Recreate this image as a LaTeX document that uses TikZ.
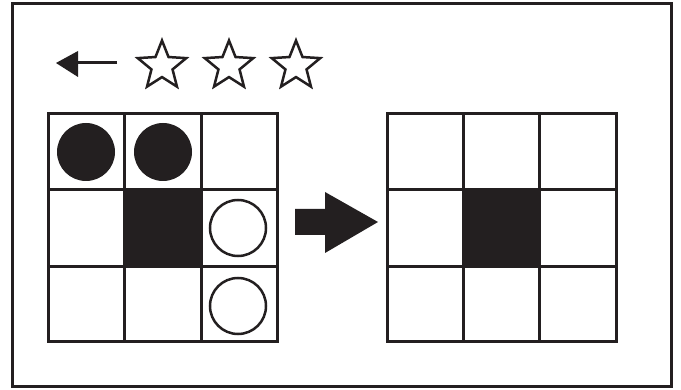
\documentclass[tikz,border=0pt]{standalone}
\usetikzlibrary{shapes.geometric}
\definecolor{ink}{HTML}{231F20}
\begin{document}
\begin{tikzpicture}[x=1pt,y=-1pt,
  cell/.style={draw=ink,line width=3pt,line cap=rect},
  dot/.style={circle,fill=ink,minimum size=58pt,inner sep=0pt},
  ring/.style={circle,draw=ink,line width=2.5pt,fill=white,minimum size=56pt,inner sep=0pt},
  starbox/.style={star,star points=5,star point ratio=2.3,draw=ink,line width=2.5pt,minimum size=51pt,inner sep=0pt}]
\useasboundingbox (0,0) rectangle (681,390);
\fill[white] (0,0) rectangle (681,390);
\draw[ink,line width=3pt] (12,3.5) rectangle (671,387);
% small left arrow
\coordinate (sa) at (117,63);
\coordinate (sb) at (76,63);
\draw[ink,line width=3pt] (sa) -- (sb);
\fill[ink] (56,63) -- (78,51) -- (78,77) -- cycle;
% stars
\node[starbox] (s1) at (162,66) {};
\node[starbox] (s2) at (229,66) {};
\node[starbox] (s3) at (296,66) {};
% left grid
\fill[ink] (124,190) rectangle (201,267);
\foreach \x in {48,124,201,277} \draw[cell] (\x,114) -- (\x,342);
\foreach \y in {114,190,267,342} \draw[cell] (48,\y) -- (277,\y);
\node[dot] (d1) at (86,152) {};
\node[dot] (d2) at (163,152) {};
\node[ring] (r1) at (238,228) {};
\node[ring] (r2) at (238,306) {};
% block arrow
\fill[ink] (295,209) -- (325,209) -- (325,192) -- (378,222) -- (325,253) -- (325,235) -- (295,235) -- cycle;
% right grid
\fill[ink] (463,190) rectangle (539,267);
\foreach \x in {387,463,539,616} \draw[cell] (\x,114) -- (\x,342);
\foreach \y in {114,190,267,342} \draw[cell] (387,\y) -- (616,\y);
\end{tikzpicture}
\end{document}
